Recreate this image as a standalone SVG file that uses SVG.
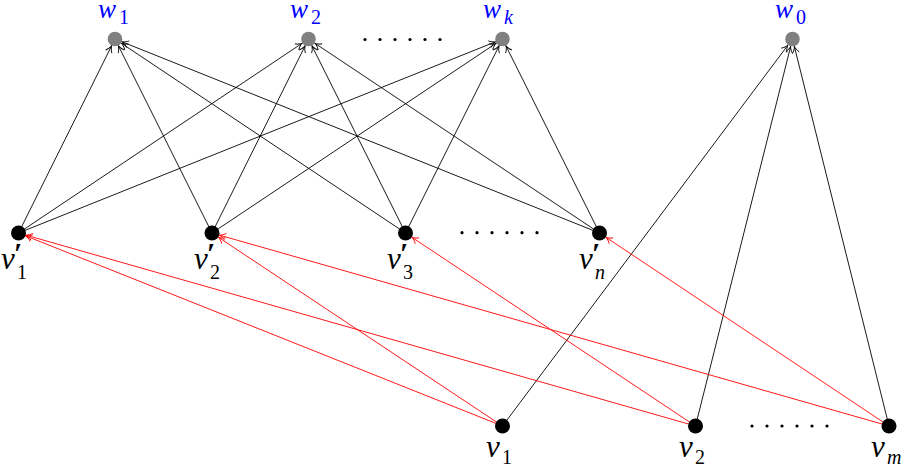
<svg xmlns="http://www.w3.org/2000/svg" width="908" height="466" viewBox="0 0 908 466">
<style>
.e{stroke:#000;stroke-width:0.9;fill:none}
.r{stroke:#ff0000;stroke-width:0.9;fill:none}
.wn{fill:#808080}
.vn{fill:#000}
.dot{fill:#000}
.lw{font-style:italic;fill:#0000ff;font-size:27px}
.lv{font-style:italic;fill:#000;font-size:31px}
.s{font-style:normal;font-size:20px}
.si{font-style:italic;font-size:20px}
.p{font-style:normal;font-size:30px;font-weight:bold}
</style>
<defs>
<marker id="ab" markerUnits="userSpaceOnUse" orient="auto" refX="8" refY="0" overflow="visible" markerWidth="10" markerHeight="10">
<path d="M-6,-3.5 C-4,-1.5 -1.5,-0.5 0,0 C-1.5,0.5 -4,1.5 -6,3.5" stroke="#000" stroke-width="0.9" fill="none"/>
</marker>
<marker id="ar" markerUnits="userSpaceOnUse" orient="auto" refX="8" refY="0" overflow="visible" markerWidth="10" markerHeight="10">
<path d="M-6,-3.5 C-4,-1.5 -1.5,-0.5 0,0 C-1.5,0.5 -4,1.5 -6,3.5" stroke="#ff0000" stroke-width="0.9" fill="none"/>
</marker>
</defs>
<g id="connectors">
<line class="e" x1="18.5" y1="233" x2="115" y2="39" marker-end="url(#ab)"/>
<line class="e" x1="18.5" y1="233" x2="308.5" y2="39" marker-end="url(#ab)"/>
<line class="e" x1="18.5" y1="233" x2="502.5" y2="39" marker-end="url(#ab)"/>
<line class="e" x1="212" y1="233" x2="115" y2="39" marker-end="url(#ab)"/>
<line class="e" x1="212" y1="233" x2="308.5" y2="39" marker-end="url(#ab)"/>
<line class="e" x1="212" y1="233" x2="502.5" y2="39" marker-end="url(#ab)"/>
<line class="e" x1="405.5" y1="233" x2="115" y2="39" marker-end="url(#ab)"/>
<line class="e" x1="405.5" y1="233" x2="308.5" y2="39" marker-end="url(#ab)"/>
<line class="e" x1="405.5" y1="233" x2="502.5" y2="39" marker-end="url(#ab)"/>
<line class="e" x1="599.5" y1="233" x2="115" y2="39" marker-end="url(#ab)"/>
<line class="e" x1="599.5" y1="233" x2="308.5" y2="39" marker-end="url(#ab)"/>
<line class="e" x1="599.5" y1="233" x2="502.5" y2="39" marker-end="url(#ab)"/>
<line class="e" x1="502.5" y1="426" x2="792.5" y2="39" marker-end="url(#ab)"/>
<line class="e" x1="695.5" y1="426" x2="792.5" y2="39" marker-end="url(#ab)"/>
<line class="e" x1="889" y1="426" x2="792.5" y2="39" marker-end="url(#ab)"/>
<line class="r" x1="502.5" y1="426" x2="18.5" y2="233" marker-end="url(#ar)"/>
<line class="r" x1="502.5" y1="426" x2="212" y2="233" marker-end="url(#ar)"/>
<line class="r" x1="695.5" y1="426" x2="18.5" y2="233" marker-end="url(#ar)"/>
<line class="r" x1="695.5" y1="426" x2="405.5" y2="233" marker-end="url(#ar)"/>
<line class="r" x1="889" y1="426" x2="212" y2="233" marker-end="url(#ar)"/>
<line class="r" x1="889" y1="426" x2="599.5" y2="233" marker-end="url(#ar)"/>
</g>
<g font-family="Liberation Serif, Times New Roman, DejaVu Serif, serif">
<g id="w1"><circle class="wn" cx="115" cy="39" r="7.3"/><text class="lw" x="98" y="18">w<tspan class="s" x="119" y="24">1</tspan></text></g>
<g id="w2"><circle class="wn" cx="308.5" cy="39" r="7.3"/><text class="lw" x="290" y="18">w<tspan class="s" x="311" y="24">2</tspan></text></g>
<g id="wk"><circle class="wn" cx="502.5" cy="39" r="7.3"/><text class="lw" x="483" y="18">w<tspan class="si" x="504" y="24">k</tspan></text></g>
<g id="w0"><circle class="wn" cx="792.5" cy="39" r="7.3"/><text class="lw" x="775" y="18">w<tspan class="s" x="796" y="24">0</tspan></text></g>
<g id="vp1"><circle class="vn" cx="18.5" cy="233" r="7.5"/><text class="lv" x="1" y="269">v<tspan class="p" x="14" y="263">′</tspan><tspan class="s" x="17" y="279">1</tspan></text></g>
<g id="vp2"><circle class="vn" cx="212" cy="233" r="7.5"/><text class="lv" x="194" y="269">v<tspan class="p" x="207" y="263">′</tspan><tspan class="s" x="210" y="279">2</tspan></text></g>
<g id="vp3"><circle class="vn" cx="405.5" cy="233" r="7.5"/><text class="lv" x="387" y="269">v<tspan class="p" x="400" y="263">′</tspan><tspan class="s" x="403" y="279">3</tspan></text></g>
<g id="vpn"><circle class="vn" cx="599.5" cy="233" r="7.5"/><text class="lv" x="579" y="269">v<tspan class="p" x="592" y="263">′</tspan><tspan class="si" x="595" y="279">n</tspan></text></g>
<g id="v1"><circle class="vn" cx="502.5" cy="426" r="7.5"/><text class="lv" x="486" y="457">v<tspan class="s" x="502" y="464">1</tspan></text></g>
<g id="v2"><circle class="vn" cx="695.5" cy="426" r="7.5"/><text class="lv" x="679" y="457">v<tspan class="s" x="695" y="464">2</tspan></text></g>
<g id="vm"><circle class="vn" cx="889" cy="426" r="7.5"/><text class="lv" x="871" y="457">v<tspan class="si" x="887" y="464">m</tspan></text></g>
</g>
<g id="top-dots"><circle class="dot" cx="365" cy="39.5" r="1.6"/><circle class="dot" cx="380" cy="39.5" r="1.6"/><circle class="dot" cx="395" cy="39.5" r="1.6"/><circle class="dot" cx="410" cy="39.5" r="1.6"/><circle class="dot" cx="425" cy="39.5" r="1.6"/><circle class="dot" cx="440" cy="39.5" r="1.6"/></g>
<g id="mid-dots"><circle class="dot" cx="462" cy="232.7" r="1.6"/><circle class="dot" cx="477" cy="232.7" r="1.6"/><circle class="dot" cx="492" cy="232.7" r="1.6"/><circle class="dot" cx="507" cy="232.7" r="1.6"/><circle class="dot" cx="522" cy="232.7" r="1.6"/><circle class="dot" cx="537" cy="232.7" r="1.6"/></g>
<g id="bottom-dots"><circle class="dot" cx="752" cy="426" r="1.6"/><circle class="dot" cx="767" cy="426" r="1.6"/><circle class="dot" cx="782" cy="426" r="1.6"/><circle class="dot" cx="797" cy="426" r="1.6"/><circle class="dot" cx="812" cy="426" r="1.6"/><circle class="dot" cx="827" cy="426" r="1.6"/></g>
</svg>
